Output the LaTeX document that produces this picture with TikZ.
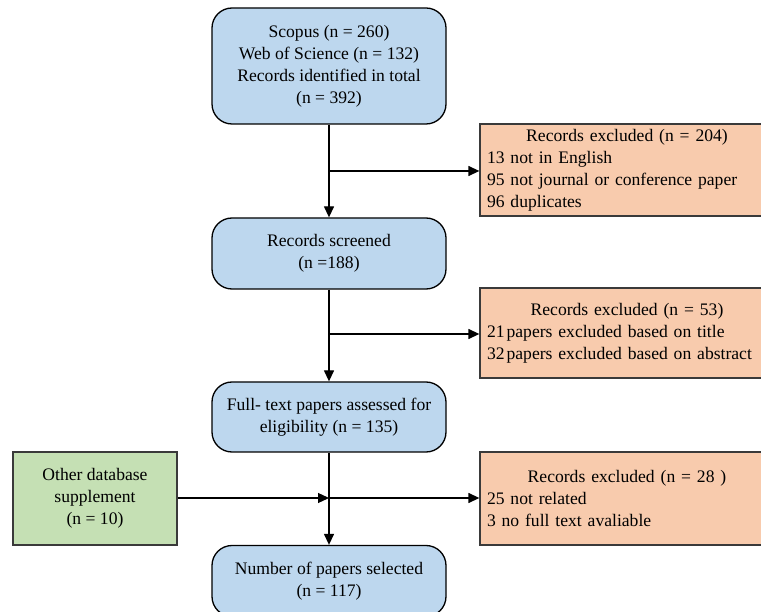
\documentclass[tikz,border=0pt]{standalone}
\usepackage{fontspec}
\setmainfont{Liberation Serif}
\usetikzlibrary{arrows.meta}
\definecolor{bluefill}{HTML}{BDD7EE}
\definecolor{orangefill}{HTML}{F8CBAD}
\definecolor{greenfill}{HTML}{C5E0B4}
\definecolor{edgegray}{HTML}{3A3A3A}
\begin{document}
\begin{tikzpicture}[x=1pt,y=-1pt,
  txt/.style={font=\fontsize{17.6}{22}\selectfont},
  bluebox/.style={txt, draw=black, fill=bluefill, rounded corners=20pt, line width=1.3pt,
    minimum width=234pt, align=center, inner sep=0pt},
  orangebox/.style={txt, draw=edgegray, fill=orangefill, line width=1.3pt,
    minimum width=294pt, text width=280pt, inner xsep=7pt, inner ysep=0pt, align=left},
  greenbox/.style={txt, draw=edgegray, fill=greenfill, line width=1.3pt,
    minimum width=164pt, align=center, inner sep=0pt},
  arr/.style={line width=1.3pt, -{Triangle[length=11pt,width=10pt]}},
  ln/.style={line width=1.3pt}
]
\useasboundingbox (0,0) rectangle (761,612);
\clip (0,0) rectangle (761,612);

\node[bluebox, minimum height=116pt] (b1) at (329,66)
  {Scopus (n = 260)\\Web of Science (n = 132)\\Records identified in total\\(n = 392)};
\node[bluebox, minimum height=71pt] (b2) at (329,253.5)
  {Records screened\\(n =188)};
\node[bluebox, minimum height=70pt] (b3) at (329,417)
  {Full- text papers assessed for\\eligibility (n = 135)};
\node[bluebox, minimum height=71pt] (b4) at (329,581)
  {Number of papers selected\\(n = 117)};

\node[greenbox, minimum height=93pt] (g) at (95,498.5)
  {Other database\\supplement\\(n = 10)};

\node[orangebox, minimum height=92pt] (o1) at (627,170)
  {\noindent\makebox[\linewidth]{Records excluded (n = 204)}\\13 not in English\\95 not journal or conference paper\\96 duplicates};
\node[orangebox, minimum height=90pt] (o2) at (627,333)
  {\noindent\makebox[\linewidth]{Records excluded (n = 53)}\\21\hspace{2pt}papers excluded based on title\\32\hspace{2pt}papers excluded based on abstract};
\node[orangebox, minimum height=93pt] (o3) at (627,498.5)
  {\noindent\makebox[\linewidth]{Records excluded (n = 28 )}\\25 not related\\3 no full text avaliable};

\coordinate (j1) at (329,171);
\coordinate (j2) at (329,334);
\coordinate (j3) at (329,498);

\draw[arr] (b1.south) -- (b2.north);
\draw[arr] (j1) -- (j1 -| o1.west);
\draw[arr] (b2.south) -- (b3.north);
\draw[arr] (j2) -- (j2 -| o2.west);
\draw[arr] (b3.south) -- (b4.north);
\draw[arr] (g.east |- j3) -- (j3);
\draw[arr] (j3) -- (j3 -| o3.west);
\end{tikzpicture}
\end{document}
